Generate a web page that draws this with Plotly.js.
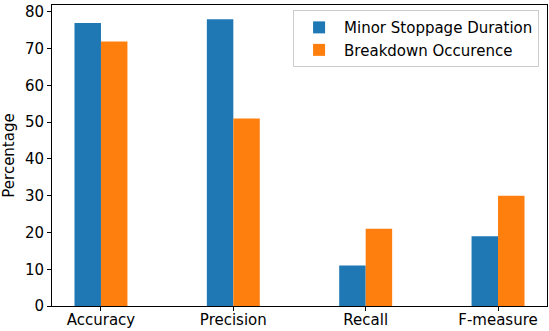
<!DOCTYPE html>
<html>
<head>
<meta charset="utf-8">
<script src="https://cdn.plot.ly/plotly-3.0.1.min.js"></script>
<style>
  html, body { margin: 0; padding: 0; background: #fff; }
  #chart { width: 549px; height: 331px; }
</style>
</head>
<body>
<div id="chart"></div>
<script>
// Data ------------------------------------------------------------------------
const metrics = ['Accuracy', 'Precision', 'Recall', 'F-measure']
const minorStoppage = [77, 78, 11, 19]
const breakdown = [72, 51, 21, 30]

const seriesNames = ['Minor Stoppage Duration', 'Breakdown Occurence']
const seriesColours = ['#1f77b4', '#ff7f0e']

// Chart -----------------------------------------------------------------------
const font = { family: '"DejaVu Sans", sans-serif', size: 15, color: '#000' }
const bar = (y, i) => ({
  x: metrics,
  y: y,
  type: 'bar',
  name: seriesNames[i],
  width: 0.2,
  offset: i === 0 ? -0.2 : 0,
  marker: { color: seriesColours[i], line: { width: 0 } },
  hoverinfo: 'x+y'
})

const axis = {
  showline: true,
  mirror: true,
  linecolor: '#000',
  linewidth: 1,
  ticks: 'outside',
  ticklen: 4,
  tickcolor: '#000',
  showgrid: false,
  zeroline: false,
  tickfont: font
}

const layout = {
  width: 549,
  height: 331,
  margin: { l: 52, r: 2, t: 5, b: 25 },
  paper_bgcolor: '#fff',
  plot_bgcolor: '#fff',
  font: font,
  barmode: 'overlay',
  showlegend: true,
  legend: {
    x: 0.984,
    y: 0.983,
    xanchor: 'right',
    yanchor: 'top',
    bgcolor: 'rgba(255,255,255,0.8)',
    bordercolor: '#cccccc',
    borderwidth: 1,
    font: font,
    itemwidth: 40,
    tracegroupgap: 0
  },
  xaxis: {
    ...axis,
    type: 'category',
    range: [-0.37, 3.37],
    ticklabelstandoff: -4
  },
  yaxis: {
    ...axis,
    range: [0, 81.9],
    dtick: 10,
    title: { text: 'Percentage', font: font, standoff: 6 }
  }
}

Plotly.newPlot('chart', [bar(minorStoppage, 0), bar(breakdown, 1)], layout, { displayModeBar: false, staticPlot: true })
</script>
</body>
</html>
